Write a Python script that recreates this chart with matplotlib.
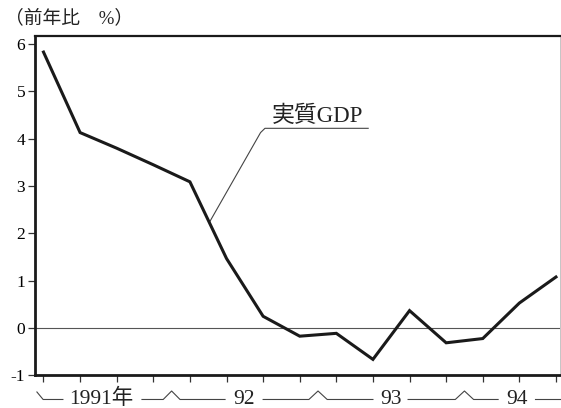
import matplotlib
matplotlib.use('Agg')
import matplotlib.pyplot as plt

# 実質GDP 前年比（%）, 1991年1-3月期 〜 1994年7-9月期
quarters = ['91Q1', '91Q2', '91Q3', '91Q4',
            '92Q1', '92Q2', '92Q3', '92Q4',
            '93Q1', '93Q2', '93Q3', '93Q4',
            '94Q1', '94Q2', '94Q3']
gdp = [5.83, 4.13, 3.80, 3.45, 3.09, 1.47, 0.25, -0.17,
       -0.11, -0.66, 0.37, -0.31, -0.22, 0.53, 1.08]

year_labels = ['1991年', '92', '93', '94']
year_pos = [1.57, 5.48, 9.5, 12.94]

y_ticks = [-1, 0, 1, 2, 3, 4, 5, 6]
y_tick_labels = ['-1', '0', '1', '2', '3', '4', '5', '6']

SERIF = ['Liberation Serif', 'Noto Sans CJK JP', 'DejaVu Sans']
plt.rcParams['font.family'] = SERIF

fig = plt.figure(figsize=(5.61, 4.08), dpi=100)
ax = fig.add_axes([0.0624, 0.0797, 0.9358, 0.8321])

x = list(range(len(quarters)))
ax.axhline(0, color='#555555', lw=0.8, zorder=1)
ax.plot(x, gdp, color='#1a1a1a', lw=2.2, solid_joinstyle='miter', zorder=3)

ax.set_xlim(-0.232, 14.11)
ax.set_ylim(-1, 6.17)

ax.set_yticks(y_ticks)
ax.set_yticklabels(y_tick_labels, fontsize=12.5)
ax.set_xticks(x)
ax.set_xticklabels([])
ax.tick_params(axis='both', direction='out', length=5, width=0.9, color='#333333', pad=2)

for side in ['left', 'bottom']:
    ax.spines[side].set_linewidth(2.0)
    ax.spines[side].set_color('#1a1a1a')
ax.spines['top'].set_linewidth(1.6)
ax.spines['top'].set_color('#1a1a1a')
ax.spines['right'].set_linewidth(0.6)
ax.spines['right'].set_color('#bbbbbb')

# 年の区切り（下部の括弧線）
tr = ax.get_xaxis_transform()
base = -0.0707
peak = -0.0457
brackets = [
    [(-0.18, -0.0486), (-0.01, base), (0.53, base)],
    [(2.69, base), (3.27, base), (3.5, peak), (3.73, base), (4.96, base)],
    [(6.0, base), (7.25, base), (7.5, peak), (7.75, base), (9.0, base)],
    [(9.96, base), (11.25, base), (11.5, peak), (11.75, base), (12.42, base)],
    [(13.43, base), (14.3, base)],
]
for seg in brackets:
    xs, ys = zip(*seg)
    ax.plot(xs, ys, color='#444444', lw=0.8, transform=tr, clip_on=False)

for lab, p in zip(year_labels, year_pos):
    ax.text(p, -0.0840, lab, transform=tr, ha='center', va='baseline',
            fontsize=15.5, color='#222222')

# 注記：実質GDP
anchor_x = 4.53
anchor_y = gdp[4] + (gdp[5] - gdp[4]) * (anchor_x - 4)
ax.plot([anchor_x, 5.93, 6.05, 8.87], [anchor_y, 4.13, 4.22, 4.22],
        color='#444444', lw=0.8, zorder=2)
ax.text(6.23, 4.35, '実質GDP', ha='left', va='baseline', fontsize=16.5,
        color='#222222')

fig.text(0.009, 0.955, '（前年比　%）', ha='left', va='center', fontsize=13.5,
         color='#222222')

fig.savefig('out.png', dpi=100)
